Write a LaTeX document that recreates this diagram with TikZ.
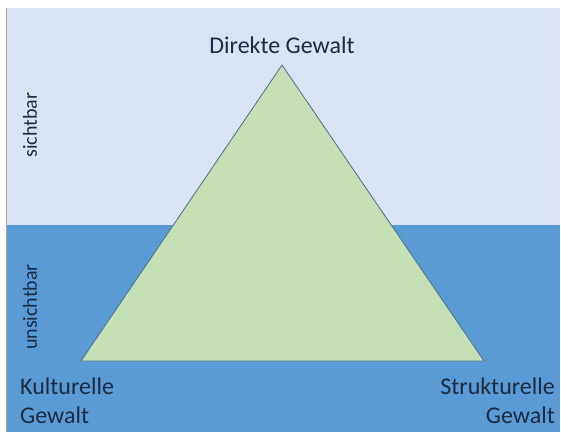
\documentclass[tikz,border=0pt]{standalone}
\usepackage{fontspec}
\setmainfont{Carlito}
\usetikzlibrary{positioning}
\definecolor{skyzone}{HTML}{DAE3F3}
\definecolor{seazone}{HTML}{5B9BD5}
\definecolor{trifill}{HTML}{C5E0B4}
\definecolor{triline}{HTML}{4F6F8F}
\definecolor{labeltext}{HTML}{1C2B3F}
\begin{document}
\begin{tikzpicture}[x=1pt,y=-1pt]
\tikzset{
  zonelabel/.style={rotate=90,font=\fontsize{20}{24}\selectfont,text=labeltext,inner sep=0pt},
  cornerlabel/.style={font=\fontsize{24}{29}\selectfont,text=labeltext,inner sep=0pt,align=left},
  triangle/.style={fill=trifill,draw=triline,line width=0.8pt,line join=miter}
}
\useasboundingbox (0,0) rectangle (561,436);
\fill[white] (0,0) rectangle (561,436);
\fill[skyzone] (7,8) rectangle (560,225);
\fill[seazone] (7,225) rectangle (560,432);
\draw[gray!70,line width=0.8pt] (6.5,8) -- (6.5,432);
\coordinate (apex) at (282,65);
\coordinate (baseL) at (81,361);
\coordinate (baseR) at (484,361);
\draw[triangle] (apex) -- (baseL) -- (baseR) -- cycle;
\node[cornerlabel] (n_direkt) at (282,45) {Direkte Gewalt};
\node[cornerlabel,anchor=north west] (n_kultur) at (20,378) {Kulturelle\\Gewalt};
\node[cornerlabel,anchor=north east,align=right] (n_struktur) at (555,378) {Strukturelle\\Gewalt};
\node[zonelabel] (n_sicht) at (30,125) {sichtbar};
\node[zonelabel] (n_unsicht) at (30,307) {unsichtbar};
\end{tikzpicture}
\end{document}
